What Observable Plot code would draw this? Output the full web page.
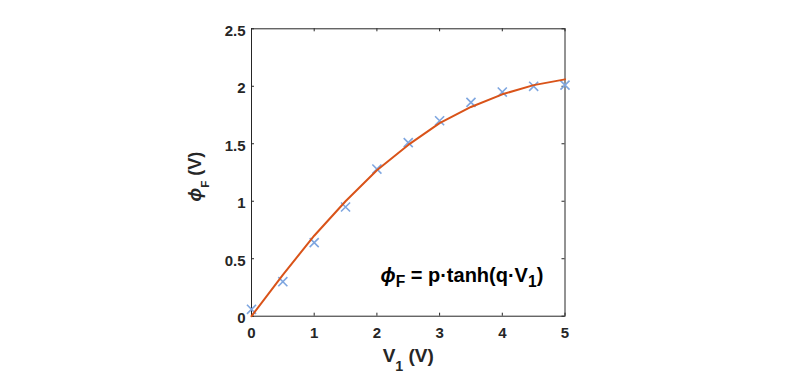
<!DOCTYPE html>
<html>
<head>
<meta charset="utf-8">
<script src="https://cdn.jsdelivr.net/npm/d3@7"></script>
<script src="https://cdn.jsdelivr.net/npm/@observablehq/plot@0.6"></script>
<style>
  html, body { margin: 0; padding: 0; background: #fff; }
  #chart svg { display: block; }
</style>
</head>
<body>
<div id="chart"></div>
<script>
// Measured data (crosses)
const V1 = [0, 0.5, 1, 1.5, 2, 2.5, 3, 3.5, 4, 4.5, 5];
const phiMeasured = [0.06, 0.30, 0.64, 0.95, 1.28, 1.51, 1.70, 1.86, 1.95, 2.00, 2.01];
// Fitted curve
const V1Fit = [0, 0.5, 1, 1.5, 2, 2.5, 3, 3.5, 4, 4.5, 5];
const phiFit = [0, 0.36, 0.70, 1.00, 1.27, 1.49, 1.68, 1.82, 1.93, 2.01, 2.06];
// Ticks
const xTicks = [0, 1, 2, 3, 4, 5];
const yTicks = [0, 0.5, 1, 1.5, 2, 2.5];

const measured = V1.map((v, i) => ({v, phi: phiMeasured[i]}));
const fit = V1Fit.map((v, i) => ({v, phi: phiFit[i]}));

const axisColor = "#262626";
const W = 793, H = 373;
const mL = 251, mR = 228.5, mT = 28.3, mB = 57.3;
const pxX = (W - mL - mR) / 5;     // px per unit x
const pxY = (H - mT - mB) / 2.5;   // px per unit y
const tickLenX = 3 / pxX, tickLenY = 3 / pxY;

const chart = Plot.plot({
  width: W,
  height: H,
  marginLeft: mL,
  marginRight: mR,
  marginTop: mT,
  marginBottom: mB,
  style: {fontFamily: "'Liberation Sans', Arial, Helvetica, sans-serif", color: axisColor, background: "#fff"},
  x: {domain: [0, 5]},
  y: {domain: [0, 2.5]},
  marks: [
    Plot.axisX(xTicks, {tickSize: 0, tickPadding: 11, fontSize: 15, fontWeight: "bold", fill: axisColor, tickFormat: d => String(d), label: null}),
    Plot.axisY(yTicks, {tickSize: 0, tickPadding: 6, fontSize: 15, fontWeight: "bold", fill: axisColor, dy: 2, tickFormat: d => String(d), label: null}),
    // inward ticks on all four sides
    Plot.ruleX(xTicks, {x: d => d, y1: 0, y2: tickLenY, stroke: axisColor}),
    Plot.ruleX(xTicks, {x: d => d, y1: 2.5, y2: 2.5 - tickLenY, stroke: axisColor}),
    Plot.ruleY(yTicks, {y: d => d, x1: 0, x2: tickLenX, stroke: axisColor}),
    Plot.ruleY(yTicks, {y: d => d, x1: 5, x2: 5 - tickLenX, stroke: axisColor}),
    Plot.frame({stroke: axisColor, strokeWidth: 1}),
    Plot.dot(measured, {x: "v", y: "phi", symbol: "times", r: 4.2, stroke: "#7ea6e0", strokeWidth: 1.6}),
    Plot.line(fit, {x: "v", y: "phi", stroke: "#D95319", strokeWidth: 2}),
    // x label
    Plot.text(["XLABEL"], {frameAnchor: "bottom", dy: 46, lineAnchor: "bottom", fontSize: 19, fontWeight: "bold", fill: axisColor}),
    // y label (starts at bottom, reads upward)
    Plot.text(["YLABEL"], {frameAnchor: "left", dx: -51, dy: 29, rotate: -90, textAnchor: "start", lineAnchor: "bottom", fontSize: 18, fontWeight: "bold", fill: axisColor}),
    // annotation
    Plot.text(["ANNOT"], {frameAnchor: "bottom-left", dx: 129, dy: -34, textAnchor: "start", lineAnchor: "bottom", fontSize: 20, fontWeight: "bold", fill: "#000"})
  ]
});

document.getElementById("chart").appendChild(chart);

// Rich text with subscripts
function rich(el, parts, fs, subScale, subShift) {
  el.textContent = "";
  parts.forEach((p, i) => {
    const t = document.createElementNS("http://www.w3.org/2000/svg", "tspan");
    t.textContent = p.t;
    if (p.italic) t.setAttribute("font-style", "italic");
    if (p.sub) {
      t.setAttribute("font-size", fs * subScale);
      t.setAttribute("dy", fs * subShift);
    } else if (i > 0 && parts[i - 1].sub) {
      t.setAttribute("dy", -fs * subShift);
    }
    el.appendChild(t);
  });
}
d3.select(chart).selectAll("text").each(function() {
  const s = this.textContent;
  if (s === "XLABEL") rich(this, [{t: "V"}, {t: "1", sub: true}, {t: " (V)"}], 19, 0.75, 0.45);
  else if (s === "YLABEL") rich(this, [{t: "ϕ", italic: true}, {t: "F", sub: true}, {t: " (V)"}], 18, 0.65, 0.45);
  else if (s === "ANNOT") rich(this, [{t: "ϕ", italic: true}, {t: "F", sub: true}, {t: " = p·tanh(q·V"}, {t: "1", sub: true}, {t: ")"}], 20, 0.78, 0.22);
});
</script>
</body>
</html>
